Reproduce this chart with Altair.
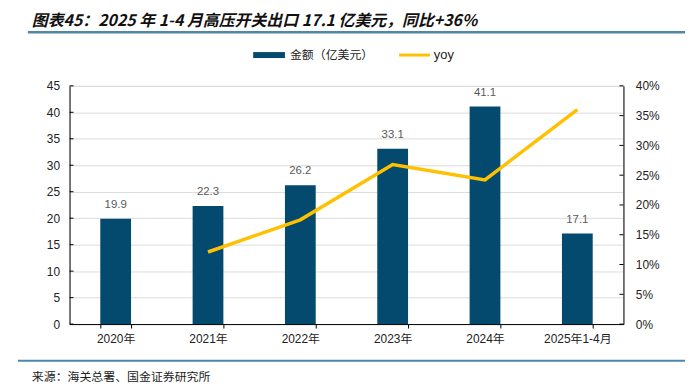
import altair as alt
import pandas as pd

categories = ["2020年", "2021年", "2022年", "2023年", "2024年", "2025年1-4月"]
amounts = [19.9, 22.3, 26.2, 33.1, 41.1, 17.1]
yoy = [None, 0.121, 0.175, 0.268, 0.242, 0.36]
left_ticks = [0, 5, 10, 15, 20, 25, 30, 35, 40, 45]
right_ticks = [0, 0.05, 0.10, 0.15, 0.20, 0.25, 0.30, 0.35, 0.40]

title_text = "图表45：2025 年 1-4 月高压开关出口 17.1 亿美元，同比+36%"
source_text = "来源：海关总署、国金证券研究所"
legend_bar = "金额（亿美元）"
legend_line = "yoy"

BAR = "#034a6e"
LINE = "#ffc000"
RULE = "#4f87aa"
FONT = "Liberation Sans, Arial, Noto Sans CJK SC"
CJK = "Noto Sans CJK SC"

df = pd.DataFrame({"cat": categories, "amt": amounts, "yoy": yoy})
one = pd.DataFrame({"a": [0]})

W, H = 558, 240

xenc = alt.X(
    "cat:N", sort=categories, title=None,
    scale=alt.Scale(paddingInner=0.667, paddingOuter=0.333),
    axis=alt.Axis(labelAngle=0, labelFont=FONT, labelFontSize=12, labelColor="#222",
                  domainColor="#000", tickColor="#000", tickSize=4, tickBand="extent",
                  labelPadding=6, grid=False),
)

bars = alt.Chart(df).mark_bar(size=31, color=BAR).encode(
    x=xenc,
    y=alt.Y("amt:Q", title=None,
            scale=alt.Scale(domain=[0, 45], nice=False),
            axis=alt.Axis(orient="left", values=left_ticks, ticks=False, labelPadding=10,
                          labelFont=FONT, labelFontSize=12, labelColor="#222",
                          domainColor="#000", grid=True, gridColor="#dcdcdc")),
)

labels = alt.Chart(df).mark_text(dy=-9, baseline="bottom", fontSize=11.5, font=FONT,
                                 color="#595959").encode(
    x=alt.X("cat:N", sort=categories),
    y=alt.Y("amt:Q", scale=alt.Scale(domain=[0, 45], nice=False), axis=None),
    text=alt.Text("amt:Q", format=".1f"),
)

ltick = alt.Chart(pd.DataFrame({"t": left_ticks})).mark_rule(color="#000").encode(
    x=alt.value(0), x2=alt.value(4),
    y=alt.Y("t:Q", scale=alt.Scale(domain=[0, 45], nice=False), axis=None),
)

line = alt.Chart(df).transform_filter("datum.yoy != null").mark_line(
    color=LINE, strokeWidth=3.5).encode(
    x=alt.X("cat:N", sort=categories),
    y=alt.Y("yoy:Q", title=None,
            scale=alt.Scale(domain=[0, 0.40], nice=False),
            axis=alt.Axis(orient="right", values=right_ticks, format=".0%", ticks=False,
                          labelPadding=12, labelFont=FONT, labelFontSize=12,
                          labelColor="#222", domainColor="#000", grid=False)),
)

rtick = alt.Chart(pd.DataFrame({"t": right_ticks})).mark_rule(color="#000").encode(
    x=alt.value(W - 4), x2=alt.value(W),
    y=alt.Y("t:Q", scale=alt.Scale(domain=[0, 0.40], nice=False), axis=None),
)

title = alt.Chart(one).mark_text(align="left", baseline="middle", font=CJK, fontSize=16,
                                 fontWeight="bold", fontStyle="italic", color="#111").encode(
    x=alt.value(-38), y=alt.value(-65), text=alt.value(title_text))

title_rule = alt.Chart(one).mark_rule(color=RULE, strokeWidth=2.5).encode(
    x=alt.value(-42), x2=alt.value(622), y=alt.value(-54))

foot_rule = alt.Chart(one).mark_rule(color=RULE, strokeWidth=2).encode(
    x=alt.value(-52), x2=alt.value(624), y=alt.value(277))

source = alt.Chart(one).mark_text(align="left", baseline="middle", font=CJK, fontSize=12,
                                  color="#222").encode(
    x=alt.value(-38), y=alt.value(293), text=alt.value(source_text))

leg_rect = alt.Chart(one).mark_rect(color=BAR).encode(
    x=alt.value(185), x2=alt.value(217), y=alt.value(-34), y2=alt.value(-28))
leg_text1 = alt.Chart(one).mark_text(align="left", baseline="middle", font=CJK, fontSize=12,
                                     color="#222").encode(
    x=alt.value(222), y=alt.value(-31), text=alt.value(legend_bar))
leg_line = alt.Chart(one).mark_rule(color=LINE, strokeWidth=3).encode(
    x=alt.value(332), x2=alt.value(363), y=alt.value(-31))
leg_text2 = alt.Chart(one).mark_text(align="left", baseline="middle", font=FONT, fontSize=13,
                                     color="#222").encode(
    x=alt.value(367), y=alt.value(-31), text=alt.value(legend_line))

chart = alt.layer(
    bars, labels, ltick, line, rtick,
    title, title_rule, foot_rule, source, leg_rect, leg_text1, leg_line, leg_text2,
).resolve_scale(y="independent").properties(
    width=W, height=H,
    autosize=alt.AutoSizeParams(type="none"),
    padding={"left": 62, "top": 77, "right": 62, "bottom": 64},
).configure_view(stroke=None).configure(background="white")

chart.save("out.html", embed_options={"renderer": "svg", "actions": False})
